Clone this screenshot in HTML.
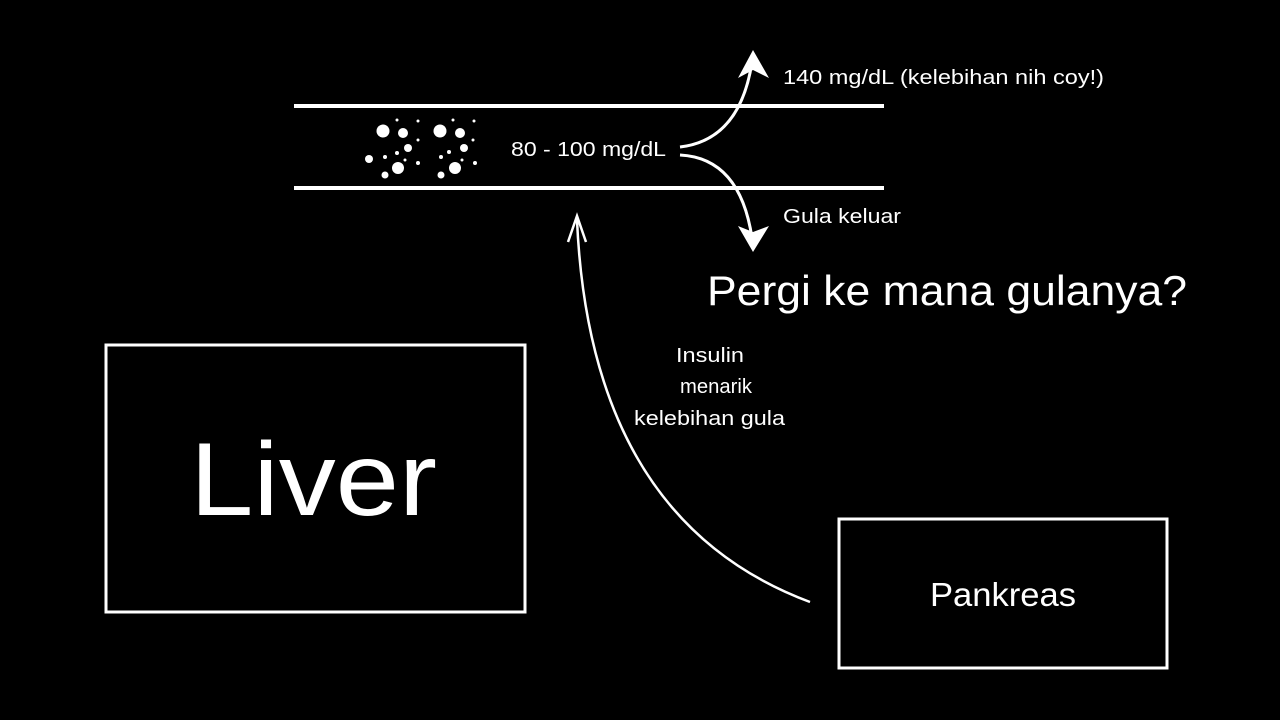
<!DOCTYPE html>
<html><head><style>
body{margin:0;background:#000;width:1280px;height:720px;overflow:hidden;font-family:"Liberation Sans",sans-serif;color:#fff}
</style></head><body>
<svg width="1280" height="720" viewBox="0 0 1280 720" xmlns="http://www.w3.org/2000/svg" style="position:absolute;left:0;top:0">
<rect width="1280" height="720" fill="#000"/>
<line x1="294" y1="106" x2="884" y2="106" stroke="#fff" stroke-width="4"/>
<line x1="294" y1="188" x2="884" y2="188" stroke="#fff" stroke-width="4"/>
<g fill="#fff">
<circle cx="383" cy="131" r="6.5"/><circle cx="403" cy="133" r="5"/><circle cx="408" cy="148" r="4"/><circle cx="398" cy="168" r="6"/><circle cx="385" cy="175" r="3.5"/><circle cx="369" cy="159" r="4"/><circle cx="385" cy="157" r="2"/><circle cx="397" cy="153" r="2"/><circle cx="418" cy="163" r="2"/><circle cx="418" cy="140" r="1.5"/><circle cx="397" cy="120" r="1.5"/><circle cx="418" cy="121" r="1.5"/><circle cx="405" cy="160" r="1.5"/>
<circle cx="440" cy="131" r="6.5"/><circle cx="460" cy="133" r="5"/><circle cx="464" cy="148" r="4"/><circle cx="455" cy="168" r="6"/><circle cx="441" cy="175" r="3.5"/><circle cx="441" cy="157" r="2"/><circle cx="449" cy="152" r="2"/><circle cx="475" cy="163" r="2"/><circle cx="473" cy="140" r="1.5"/><circle cx="453" cy="120" r="1.5"/><circle cx="474" cy="121" r="1.5"/><circle cx="462" cy="160" r="1.5"/>
</g>
<text x="511" y="156" font-size="20" fill="#fff" textLength="155" lengthAdjust="spacingAndGlyphs">80 - 100 mg/dL</text>
<path d="M680 147 Q740 140 752 62" stroke="#fff" stroke-width="3" fill="none"/>
<polygon points="753,50 738,78 753,70 769,78" fill="#fff"/>
<path d="M680 155 Q740 158 752 238" stroke="#fff" stroke-width="3" fill="none"/>
<polygon points="753,252 738,226 753,232 769,226" fill="#fff"/>
<text x="783" y="84" font-size="20" fill="#fff" textLength="321" lengthAdjust="spacingAndGlyphs">140 mg/dL  (kelebihan nih coy!)</text>
<text x="783" y="223" font-size="20" fill="#fff" textLength="118" lengthAdjust="spacingAndGlyphs">Gula keluar</text>
<text x="707" y="305" font-size="42" fill="#fff" textLength="480" lengthAdjust="spacingAndGlyphs">Pergi ke mana gulanya?</text>
<path d="M810 602 Q590 520 577 220" stroke="#fff" stroke-width="2.5" fill="none"/>
<polyline points="568,242 577,216 586,242" stroke="#fff" stroke-width="2.5" fill="none"/>
<text x="676" y="362" font-size="20" fill="#fff" textLength="68" lengthAdjust="spacingAndGlyphs">Insulin</text>
<text x="680" y="393" font-size="20" fill="#fff" textLength="72" lengthAdjust="spacingAndGlyphs">menarik</text>
<text x="634" y="425" font-size="20" fill="#fff" textLength="151" lengthAdjust="spacingAndGlyphs">kelebihan gula</text>
<rect x="106" y="345" width="419" height="267" stroke="#fff" stroke-width="3" fill="none"/>
<text x="190" y="515" font-size="104" fill="#fff" textLength="247" lengthAdjust="spacingAndGlyphs">Liver</text>
<rect x="839" y="519" width="328" height="149" stroke="#fff" stroke-width="3" fill="none"/>
<text x="930" y="606" font-size="33" fill="#fff" textLength="146" lengthAdjust="spacingAndGlyphs">Pankreas</text>
</svg>
</body></html>
